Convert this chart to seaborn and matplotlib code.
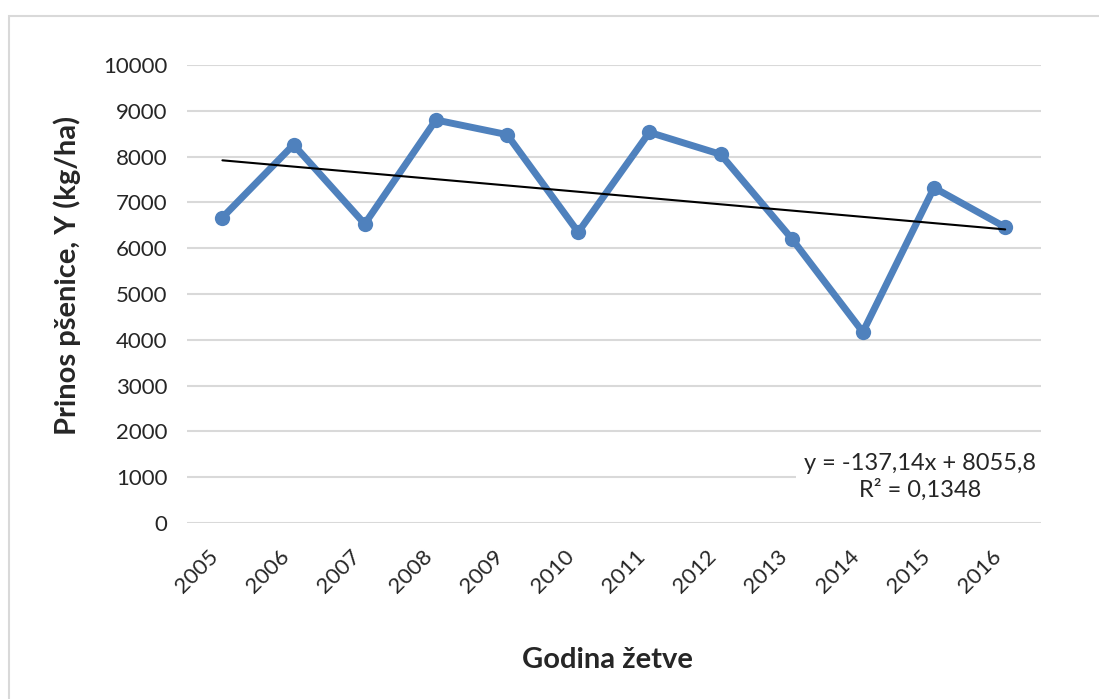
import numpy as np
import pandas as pd
import seaborn as sns
import matplotlib.pyplot as plt
from matplotlib.patches import Rectangle

# Data
years = [2005, 2006, 2007, 2008, 2009, 2010, 2011, 2012, 2013, 2014, 2015, 2016]
yield_kg_ha = [6670, 8260, 6530, 8800, 8480, 6350, 8530, 8050, 6210, 4170, 7320, 6460]
trend_slope = -137.14
trend_intercept = 8055.8
trend_r2 = 0.1348
y_ticks = [0, 1000, 2000, 3000, 4000, 5000, 6000, 7000, 8000, 9000, 10000]

df = pd.DataFrame({"Godina": years, "Prinos": yield_kg_ha})
df["trend"] = trend_slope * (df["Godina"] - years[0] + 1) + trend_intercept

sns.set_theme(style="white")
plt.rcParams['font.family'] = ['Lato', 'DejaVu Sans']

fig = plt.figure(figsize=(10.99, 6.99), dpi=100)
ax = fig.add_axes([0.170, 0.2518, 0.777, 0.6552])

# outer chart border (only left and top visible in the crop)
fig.patches.append(Rectangle((9 / 1099, -0.1), 1.2, 1 - 16 / 699 + 0.1,
                             transform=fig.transFigure, fill=False,
                             edgecolor='#D9D9D9', linewidth=1.5, zorder=0))

sns.lineplot(data=df, x="Godina", y="Prinos", ax=ax, color='#4F81BD',
             linewidth=5, marker='o', markersize=11, markeredgewidth=0, zorder=3)
sns.lineplot(data=df, x="Godina", y="trend", ax=ax, color='black',
             linewidth=1.5, zorder=4)

ax.set_xlim(years[0] - 0.5, years[-1] + 0.5)
ax.set_ylim(0, 10000)
ax.set_yticks(y_ticks)
ax.set_yticklabels([str(t) for t in y_ticks], fontsize=16)
ax.set_xticks(years)
ax.set_xticklabels([str(y) for y in years], rotation=45, ha='right', va='top', fontsize=16)
ax.tick_params(axis='x', length=0, pad=17)
ax.tick_params(axis='y', length=0, pad=14)
ax.yaxis.grid(True, color='#D9D9D9', linewidth=1.5)
ax.set_axisbelow(True)
for s in ax.spines.values():
    s.set_visible(False)

ax.set_xlabel("")
ax.set_ylabel("")
fig.text(607 / 1099, 1 - 660 / 699, "Godina žetve", ha='center', va='center',
         fontsize=21, fontweight='bold')
fig.text(67 / 1099, 1 - 275 / 699, "Prinos pšenice, Y (kg/ha)", ha='center', va='center',
         rotation=90, fontsize=21, fontweight='bold')

# trendline label
eq = "y = {}x + {}".format(str(trend_slope).replace('.', ','), str(trend_intercept).replace('.', ','))
r2 = "R² = {}".format(str(trend_r2).replace('.', ','))
ax.text(years[0] + 9.8, 1000, eq + "\n" + r2, ha='center', va='center', fontsize=17,
        linespacing=1.25, zorder=5,
        bbox=dict(facecolor='white', edgecolor='none', pad=6))

fig.savefig("out.png", dpi=100)
